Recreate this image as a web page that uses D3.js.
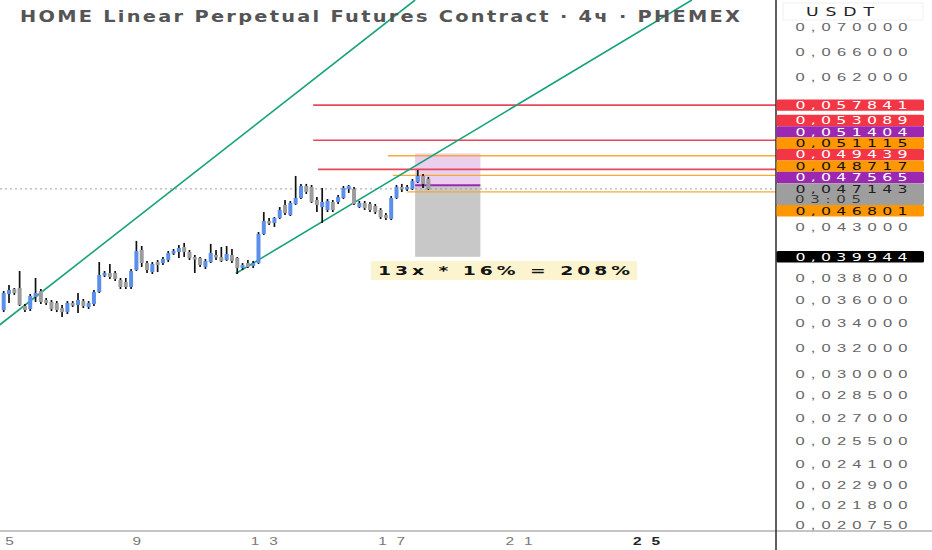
<!DOCTYPE html>
<html>
<head>
<meta charset="utf-8">
<script src="https://cdn.jsdelivr.net/npm/d3@7"></script>
<style>
  body { margin: 0; background: #fff; }
  svg { display: block; font-family: "DejaVu Sans", Verdana, sans-serif; }
</style>
</head>
<body>
<div id="vis"></div>
<script>

const width = 932, height = 550;
const axisX = 776, axisY = 531;

// 4h candles, first one opens day 4 20:00
const firstCandle = 4 + 20 / 24;
const candleStep = 1 / 6;

const candleOpen = [
  0.03507, 0.03647, 0.03692, 0.03701, 0.03542, 0.03516, 0.03621, 0.03674, 0.03594, 0.03577,
  0.03568, 0.03524, 0.03490, 0.03568, 0.03551, 0.03585, 0.03533, 0.03559, 0.03665, 0.03821,
  0.03839, 0.03839, 0.03774, 0.03756, 0.03710, 0.03867, 0.04061, 0.03934, 0.03848, 0.03944,
  0.03934, 0.03963, 0.04032, 0.04041, 0.04091, 0.04041, 0.03992, 0.03983, 0.03896, 0.03944,
  0.04012, 0.03992, 0.03963, 0.04012, 0.03983, 0.03886, 0.03934, 0.03905, 0.03934, 0.04223,
  0.04359, 0.04338, 0.04391, 0.04533, 0.04423, 0.04544, 0.04611, 0.04748, 0.04737, 0.04588,
  0.04510, 0.04477, 0.04566, 0.04566, 0.04611, 0.04714, 0.04714, 0.04510, 0.04555, 0.04544,
  0.04521, 0.04477, 0.04423, 0.04380, 0.04611, 0.04737, 0.04714, 0.04714, 0.04795, 0.04866,
  0.04830
];
const candleHigh = [
  0.03674, 0.03729, 0.03701, 0.03858, 0.03559, 0.03647, 0.03793, 0.03692, 0.03612, 0.03594,
  0.03585, 0.03551, 0.03585, 0.03585, 0.03656, 0.03603, 0.03585, 0.03683, 0.03944, 0.03858,
  0.03925, 0.03858, 0.03793, 0.03793, 0.03877, 0.04152, 0.04101, 0.03954, 0.03944, 0.03963,
  0.03992, 0.04051, 0.04071, 0.04111, 0.04132, 0.04061, 0.04012, 0.03992, 0.03973, 0.04122,
  0.04061, 0.04091, 0.04101, 0.04071, 0.03992, 0.03934, 0.03963, 0.03954, 0.04244, 0.04455,
  0.04391, 0.04401, 0.04510, 0.04588, 0.04577, 0.04866, 0.04772, 0.04772, 0.04760, 0.04622,
  0.04725, 0.04599, 0.04588, 0.04645, 0.04748, 0.04760, 0.04737, 0.04577, 0.04577, 0.04566,
  0.04544, 0.04499, 0.04445, 0.04633, 0.04760, 0.04772, 0.04760, 0.04830, 0.04937, 0.04889,
  0.04854
];
const candleLow = [
  0.03490, 0.03568, 0.03639, 0.03542, 0.03490, 0.03499, 0.03577, 0.03559, 0.03551, 0.03499,
  0.03490, 0.03448, 0.03473, 0.03533, 0.03482, 0.03524, 0.03516, 0.03542, 0.03656, 0.03802,
  0.03784, 0.03765, 0.03692, 0.03692, 0.03692, 0.03858, 0.03896, 0.03839, 0.03830, 0.03848,
  0.03915, 0.03944, 0.04012, 0.03983, 0.03992, 0.03963, 0.03839, 0.03896, 0.03877, 0.03934,
  0.03963, 0.03944, 0.03954, 0.03934, 0.03830, 0.03867, 0.03886, 0.03886, 0.03925, 0.04213,
  0.04317, 0.04296, 0.04380, 0.04423, 0.04412, 0.04533, 0.04599, 0.04656, 0.04555, 0.04455,
  0.04338, 0.04455, 0.04455, 0.04544, 0.04599, 0.04668, 0.04533, 0.04499, 0.04477, 0.04455,
  0.04434, 0.04380, 0.04369, 0.04369, 0.04599, 0.04679, 0.04691, 0.04702, 0.04783, 0.04725,
  0.04702
];
const candleClose = [
  0.03656, 0.03683, 0.03656, 0.03551, 0.03507, 0.03630, 0.03656, 0.03577, 0.03568, 0.03516,
  0.03507, 0.03490, 0.03568, 0.03551, 0.03594, 0.03542, 0.03568, 0.03665, 0.03821, 0.03839,
  0.03802, 0.03784, 0.03710, 0.03710, 0.03858, 0.04051, 0.03934, 0.03867, 0.03925, 0.03915,
  0.03973, 0.04032, 0.04051, 0.04081, 0.04041, 0.03983, 0.03973, 0.03915, 0.03954, 0.04032,
  0.03992, 0.03954, 0.04022, 0.03954, 0.03886, 0.03915, 0.03896, 0.03934, 0.04223, 0.04359,
  0.04338, 0.04391, 0.04477, 0.04445, 0.04555, 0.04611, 0.04748, 0.04679, 0.04566, 0.04533,
  0.04566, 0.04577, 0.04477, 0.04622, 0.04725, 0.04748, 0.04544, 0.04555, 0.04499, 0.04477,
  0.04455, 0.04401, 0.04391, 0.04611, 0.04737, 0.04714, 0.04737, 0.04806, 0.04866, 0.04772,
  0.047143
];

// price axis
const priceTicks = [0.070, 0.066, 0.062, 0.043, 0.038, 0.036, 0.034, 0.032, 0.030,
  0.0285, 0.027, 0.0255, 0.0241, 0.0229, 0.0218, 0.02075];
const dayTicks = [5, 9, 13, 17, 21, 25];

// horizontal levels: price, kind, start day of the line (null = label only)
const levelPrice = [0.057841, 0.053089, 0.051404, 0.051115, 0.049439, 0.048717, 0.047565, 0.047143, 0.046801, 0.039944];
const levelKind  = ["red", "red", "purple", "orange", "red", "orange", "purple", "last", "orange", "black"];
const levelStart = [14.55, 14.55, null, 16.90, 14.70, 17.05, null, null, 17.50, null];
const countdown = "03:05";

// short position tool
const positionStart = 17.75, positionEnd = 19.80;
const positionStop = 0.051404, positionEntry = 0.047565, positionTarget = 0.039944;

// trend lines [day, price]
const trendLines = [
  [[4.70, 0.03381], [17.75, 0.07477]],
  [[12.12, 0.03834], [26.44, 0.07477]]
];

const noteText = "13x * 16% = 208%";
const notePos = [20.54, 0.03862];
const titleText = "HOME Linear Perpetual Futures Contract · 4ч · PHEMEX";

const kindFill = { red: "#f23645", purple: "#9c27b0", orange: "#ff9800", last: "#9e9e9e", black: "#000000" };
const kindText = { red: "#ffffff", purple: "#ffffff", orange: "#131313", last: "#1e1e1e", black: "#ffffff" };
const kindLine = { red: "#e8475a", orange: "#f7a630" };

const svg = d3.select("#vis").append("svg")
  .attr("width", width)
  .attr("height", height);

svg.append("rect").attr("width", width).attr("height", height).attr("fill", "#fff");

const xScale = d3.scaleLinear().domain([5, 25]).range([9, 646]);
const yScale = d3.scaleLog().domain([0.02075, 0.07]).range([525, 27]);

// the screenshot is stretched sideways, so text is widened with scaleX
function wideText(parent, x, y, str, o) {
  const sx = o.sx || 1.3;
  const t = parent.append("text")
    .attr("transform", `translate(${x},${y}) scale(${sx},1)`)
    .attr("text-anchor", o.anchor || "middle")
    .attr("dy", o.dy || "0.36em")
    .attr("font-size", o.size)
    .attr("font-weight", o.weight || "normal")
    .attr("fill", o.fill || "#222")
    .text(str);
  if (o.length) {
    t.attr("textLength", o.length / sx).attr("lengthAdjust", "spacing");
  }
  return t;
}

svg.append("clipPath").attr("id", "plot")
  .append("rect").attr("x", 0).attr("y", 0).attr("width", axisX).attr("height", axisY);

const plot = svg.append("g").attr("clip-path", "url(#plot)");

// position box
const x0 = xScale(positionStart), x1 = xScale(positionEnd);
plot.append("rect")
  .attr("x", x0).attr("width", x1 - x0)
  .attr("y", yScale(positionStop))
  .attr("height", yScale(positionEntry) - yScale(positionStop))
  .attr("fill", "rgba(206,140,214,0.42)");
plot.append("rect")
  .attr("x", x0).attr("width", x1 - x0)
  .attr("y", yScale(positionEntry))
  .attr("height", yScale(positionTarget) - yScale(positionEntry))
  .attr("fill", "rgba(140,140,140,0.48)");

// last price dotted line
const lastIdx = levelKind.indexOf("last");
plot.append("line")
  .attr("x1", 0).attr("x2", axisX)
  .attr("y1", yScale(levelPrice[lastIdx])).attr("y2", yScale(levelPrice[lastIdx]))
  .attr("stroke", "#9e9e9e")
  .attr("stroke-width", 1)
  .attr("stroke-dasharray", "2,3");

// level lines
levelPrice.forEach((p, i) => {
  if (levelStart[i] === null) return;
  const k = levelKind[i];
  plot.append("line")
    .attr("x1", xScale(levelStart[i])).attr("x2", axisX)
    .attr("y1", yScale(p)).attr("y2", yScale(p))
    .attr("stroke", kindLine[k])
    .attr("stroke-width", k == "red" ? 1.7 : 1.3)
    .attr("opacity", k == "red" ? 1 : 0.95);
});

// entry line inside the box
plot.append("line")
  .attr("x1", x0).attr("x2", x1)
  .attr("y1", yScale(positionEntry)).attr("y2", yScale(positionEntry))
  .attr("stroke", "#9c27b0")
  .attr("stroke-width", 2);

// trend lines
const line = d3.line().x(d => xScale(d[0])).y(d => yScale(d[1]));
plot.selectAll(".trend")
  .data(trendLines)
  .enter()
  .append("path")
  .attr("class", "trend")
  .attr("d", line)
  .attr("fill", "none")
  .attr("stroke", "#17a27a")
  .attr("stroke-width", 1.6);

// candles
const candles = candleOpen.map((o, i) => ({
  t: firstCandle + i * candleStep,
  o: o, h: candleHigh[i], l: candleLow[i], c: candleClose[i]
}));

const cg = plot.selectAll(".candle")
  .data(candles)
  .enter()
  .append("g")
  .attr("class", "candle");

cg.append("line")
  .attr("x1", d => xScale(d.t)).attr("x2", d => xScale(d.t))
  .attr("y1", d => yScale(d.h)).attr("y2", d => yScale(d.l))
  .attr("stroke", "#111")
  .attr("stroke-width", 1.7);

cg.append("rect")
  .attr("x", d => xScale(d.t) - 2)
  .attr("width", 4)
  .attr("y", d => yScale(Math.max(d.o, d.c)))
  .attr("height", d => Math.max(2.5, Math.abs(yScale(d.o) - yScale(d.c))))
  .attr("fill", d => d.c >= d.o ? "#5b8fea" : "#9c9c9c");

// note
const note = plot.append("g");
note.append("rect")
  .attr("x", xScale(notePos[0]) - 133).attr("y", yScale(notePos[1]) - 9.5)
  .attr("width", 266).attr("height", 19)
  .attr("fill", "#fcf4cf");
wideText(note, xScale(notePos[0]), yScale(notePos[1]), noteText,
  { size: 12.5, weight: "bold", fill: "#131313", sx: 1.5, length: 252 });

// title
wideText(svg, 20, 16.5, titleText,
  { size: 15.5, weight: "bold", fill: "#555", anchor: "start", sx: 1.25, length: 720 });

// axes frame
svg.append("line")
  .attr("x1", 0).attr("x2", width)
  .attr("y1", axisY).attr("y2", axisY)
  .attr("stroke", "#8a8a8a").attr("stroke-width", 1);
svg.append("line")
  .attr("x1", axisX).attr("x2", axisX)
  .attr("y1", 0).attr("y2", height)
  .attr("stroke", "#2a2a2a").attr("stroke-width", 1.5);

// price axis (d3 axis for placement, labels redrawn wide)
const fmt = v => d3.format(".6f")(v).replace(".", ",");

const yAxis = svg.append("g")
  .attr("transform", `translate(${axisX},0)`)
  .call(d3.axisRight(yScale).tickValues(priceTicks).tickSize(0).tickFormat(""));
yAxis.select(".domain").remove();
yAxis.selectAll(".tick").each(function(d) {
  wideText(d3.select(this), 851.5 - axisX, 0, fmt(d),
    { size: 11, fill: "#666", sx: 1.5, length: 112 });
});

svg.append("rect")
  .attr("x", 783).attr("y", 3).attr("width", 140).attr("height", 17)
  .attr("fill", "none").attr("stroke", "#f0f0f0");
wideText(svg, 840, 12, "USDT", { size: 11.5, fill: "#222", sx: 1.5, length: 68 });

// day axis
const xAxis = svg.append("g")
  .attr("transform", `translate(0,${axisY})`)
  .call(d3.axisBottom(xScale).tickValues(dayTicks).tickSize(0).tickFormat(""));
xAxis.select(".domain").remove();
xAxis.selectAll(".tick").each(function(d) {
  const s = String(d);
  wideText(d3.select(this), 0, 10, s, {
    size: 11,
    fill: d == 25 ? "#222" : "#777",
    weight: d == 25 ? "bold" : "normal",
    sx: 1.4,
    length: s.length == 2 ? 27 : 9
  });
});

// level labels, stacked around the last price label
const labelH = 11.4;
const labels = levelPrice.map((p, i) => ({ p, kind: levelKind[i], y: yScale(p) }))
  .sort((a, b) => b.p - a.p);
const cur = labels.findIndex(d => d.kind == "last");
labels[cur].cy = labels[cur].y;
labels[cur].top = labels[cur].y - labelH / 2;
labels[cur].bottom = labels[cur].y + labelH / 2 + 10.5;
for (let j = cur - 1; j >= 0; j--) {
  const d = labels[j];
  d.cy = Math.min(d.y, labels[j + 1].top - labelH / 2);
  d.top = d.cy - labelH / 2;
  d.bottom = d.cy + labelH / 2;
}
for (let j = cur + 1; j < labels.length; j++) {
  const d = labels[j];
  d.cy = Math.max(d.y, labels[j - 1].bottom + labelH / 2);
  d.top = d.cy - labelH / 2;
  d.bottom = d.cy + labelH / 2;
}

const lg = svg.selectAll(".lvl")
  .data(labels)
  .enter()
  .append("g")
  .attr("class", "lvl");

lg.append("rect")
  .attr("x", axisX + 0.5)
  .attr("y", d => d.top)
  .attr("width", 147.5)
  .attr("height", d => d.bottom - d.top)
  .attr("rx", 1.5)
  .attr("fill", d => kindFill[d.kind]);

lg.each(function(d) {
  const g = d3.select(this);
  wideText(g, 851.5, d.cy, fmt(d.p),
    { size: 10.5, fill: kindText[d.kind], sx: 1.5, length: 112 });
  if (d.kind == "last") {
    wideText(g, 795, d.cy + 10.5, countdown,
      { size: 10, fill: "#3a3a3a", anchor: "start", sx: 1.5, length: 66 });
  }
});

</script>
</body>
</html>
